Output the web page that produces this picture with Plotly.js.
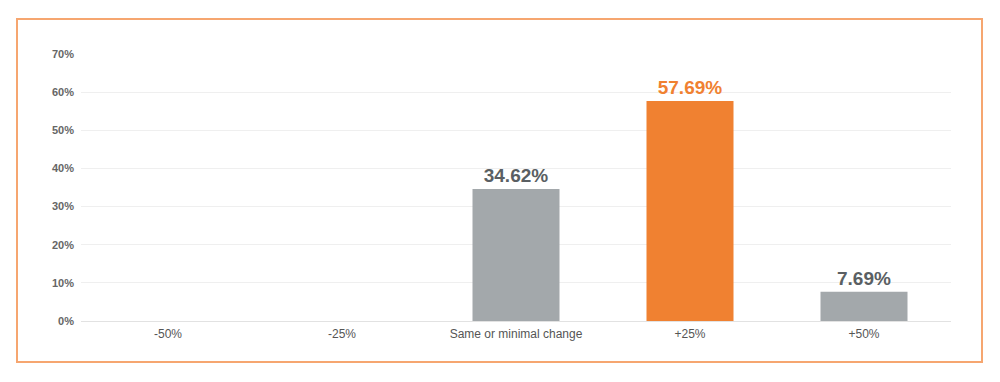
<!DOCTYPE html>
<html>
<head>
<meta charset="utf-8">
<script src="https://cdn.plot.ly/plotly-3.0.1.min.js"></script>
<style>
  html, body { margin: 0; padding: 0; background: #ffffff; }
  #wrap { position: relative; width: 1000px; height: 382px; }
  #frame { position: absolute; left: 16px; top: 18px; width: 963px; height: 341px; border: 2px solid #F6A670; pointer-events: none; }
  #chart { position: absolute; left: 0; top: 0; width: 1000px; height: 382px; }
</style>
</head>
<body>
<div id="wrap">
  <div id="chart"></div>
  <div id="frame"></div>
</div>
<script>
const categories = ["-50%", "-25%", "Same or minimal change", "+25%", "+50%"];
const values = [0, 0, 34.62, 57.69, 7.69];
const highlight = [false, false, false, true, false];
const yTicks = [0, 10, 20, 30, 40, 50, 60, 70];

const gray = "#A3A8AB";
const orange = "#F08131";
const barColors = highlight.map(h => h ? orange : gray);
const textColors = highlight.map(h => h ? orange : "#5A5F63");
const labels = values.map(v => v > 0 ? v.toFixed(2) + "%" : "");

const trace = {
  type: "bar",
  x: categories,
  y: values,
  marker: { color: barColors },
  width: 0.5,
  text: labels,
  textposition: "outside",
  cliponaxis: false,
  textfont: { family: "Liberation Sans, Arial, sans-serif", size: 19, color: textColors, weight: "bold" },
  hoverinfo: "none"
};

const layout = {
  width: 1000,
  height: 382,
  margin: { l: 81, r: 49, t: 54, b: 61 },
  paper_bgcolor: "rgba(0,0,0,0)",
  plot_bgcolor: "rgba(0,0,0,0)",
  showlegend: false,
  bargap: 0.5,
  font: { family: "Liberation Sans, Arial, sans-serif" },
  xaxis: {
    type: "category",
    tickfont: { size: 12, color: "#555555" },
    showgrid: false,
    showline: false,
    ticks: "",
    ticklabelstandoff: 4,
    fixedrange: true
  },
  yaxis: {
    range: [0, 70],
    tickvals: yTicks,
    ticktext: yTicks.map(t => t + "%"),
    tickfont: { size: 11, color: "#666666", weight: "bold" },
    showgrid: true,
    gridcolor: "#EFEFEF",
    gridwidth: 1,
    zeroline: true,
    zerolinecolor: "#E2E2E2",
    zerolinewidth: 1,
    showline: false,
    ticks: "",
    ticklabelstandoff: 6,
    fixedrange: true
  }
};

Plotly.newPlot("chart", [trace], layout, { displayModeBar: false, staticPlot: true });
</script>
</body>
</html>
